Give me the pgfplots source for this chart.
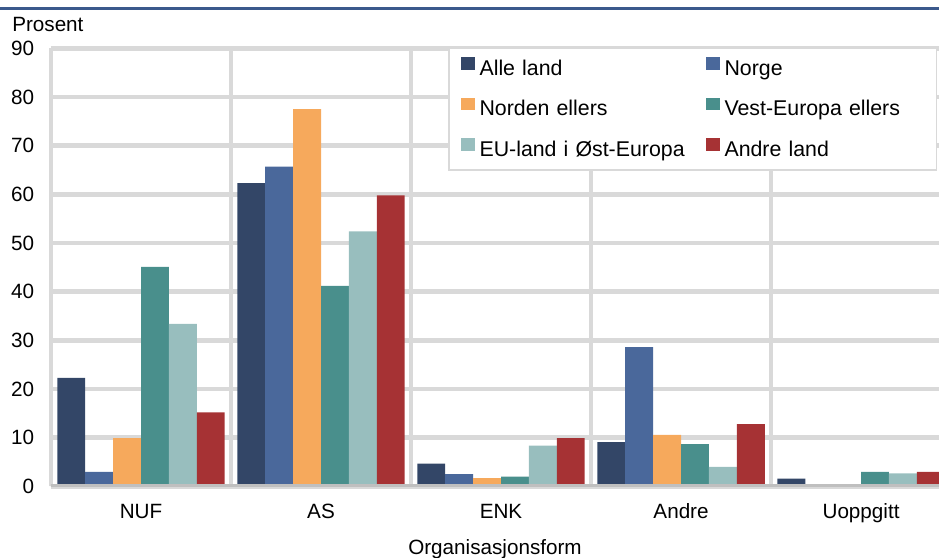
\documentclass[border=0pt]{standalone}
\usepackage{pgfplots}
\pgfplotsset{compat=1.18}
\usepackage{pgfplotstable}
\usepackage{fontspec}
\setmainfont{Liberation Sans}

\definecolor{cAlle}{RGB}{51,70,103}
\definecolor{cNorge}{RGB}{74,104,155}
\definecolor{cNorden}{RGB}{246,169,92}
\definecolor{cVest}{RGB}{73,143,140}
\definecolor{cEU}{RGB}{152,190,190}
\definecolor{cAndre}{RGB}{166,50,52}
\definecolor{cGrid}{RGB}{217,217,217}
\definecolor{cAxis}{RGB}{191,191,191}
\definecolor{cTop}{RGB}{59,89,140}

% andel i prosent, etter organisasjonsform
\pgfplotstableread{
x  alle  norge norden vest eu   andre
0  22.3  3.0   9.9    45.1 33.4 15.2
1  62.3  65.7  77.5   41.2 52.4 59.8
2  4.7   2.5   1.7    2.0  8.4  9.9
3  9.1   28.6  10.6   8.7  4.0  12.8
4  1.6   0.0   0.2    3.0  2.7  3.0
}\data

\pgfplotsset{sq legend/.style={legend image code/.code={%
  \path[draw=none, fill=none] (0pt,0pt) rectangle (14.25pt,1pt);
  \fill[##1, draw=none] (0pt,0pt) rectangle (10.5pt,9.6pt);}}}

\begin{document}
\begin{tikzpicture}[font=\fontsize{15.5}{18}\selectfont]
\useasboundingbox (-38.25pt,-52.95pt) rectangle (666pt,364.8pt);
\draw[cTop, line width=2.5pt] (-38.25pt,358.4pt) -- (666pt,358.4pt);
\node[anchor=base west, inner sep=0pt] at (-29.25pt,340.8pt) {Prosent};
\begin{axis}[
    at={(0pt,0pt)}, anchor=south west,
    scale only axis,
    width=666pt, height=328.5pt,
    xmin=-0.5, xmax=4.433,
    ymin=0, ymax=90,
    ybar=0pt, bar width=0.155,
    xtick={0,1,2,3,4},
    xticklabels={NUF,AS,ENK,Andre,Uoppgitt},
    minor xtick={-0.5,0.5,1.5,2.5,3.5},
    ytick={0,10,...,90},
    xminorgrids=true, ymajorgrids=true,
    major grid style={draw=cGrid, line width=3.5pt},
    minor grid style={draw=cGrid, line width=3.5pt},
    axis line style={draw=none},
    major tick length=0pt, minor tick length=0pt,
    tick style={draw=none},
    /pgf/number format/assume math mode=true,
    tick label style={font=\fontsize{15.5}{18}\selectfont},
    xticklabel style={anchor=base, yshift=-23.7pt},
    yticklabel style={anchor=east, inner xsep=0pt, xshift=-12.5pt},
    xlabel={Organisasjonsform},
    xlabel style={at={(axis description cs:0.5,0)}, anchor=base, yshift=-50.7pt,
        font=\fontsize{15.5}{18}\selectfont},
    legend columns=2,
    legend cell align=left,
    legend style={at={(1,1)}, anchor=north east, xshift=-1.5pt, yshift=0.75pt,
        draw=cGrid, line width=1.1pt, fill=white,
        inner xsep=8.8pt, inner ysep=6.8pt, row sep=13.2pt,
        font=\fontsize{16}{19}\selectfont,
        nodes={inner xsep=0pt, inner ysep=0pt, text height=11.5pt,
            text depth=3.5pt, text width=150pt},
        /tikz/every even column/.append style={column sep=19.5pt}},
]
\addplot[fill=cAlle, draw=none, sq legend] table[x=x, y=alle] {\data};
\addlegendentry{Alle land}
\addplot[fill=cNorge, draw=none, sq legend] table[x=x, y=norge] {\data};
\addlegendentry{Norge}
\addplot[fill=cNorden, draw=none, sq legend] table[x=x, y=norden] {\data};
\addlegendentry{Norden ellers}
\addplot[fill=cVest, draw=none, sq legend] table[x=x, y=vest] {\data};
\addlegendentry{Vest-Europa ellers}
\addplot[fill=cEU, draw=none, sq legend] table[x=x, y=eu] {\data};
\addlegendentry{\mbox{EU-land i Øst-Europa}}
\addplot[fill=cAndre, draw=none, sq legend] table[x=x, y=andre] {\data};
\addlegendentry{Andre land}
\draw[cAxis, line width=3.75pt] ([xshift=-2.25pt]axis cs:-0.5,0) -- (axis cs:4.433,0);
\end{axis}
\end{tikzpicture}
\end{document}
